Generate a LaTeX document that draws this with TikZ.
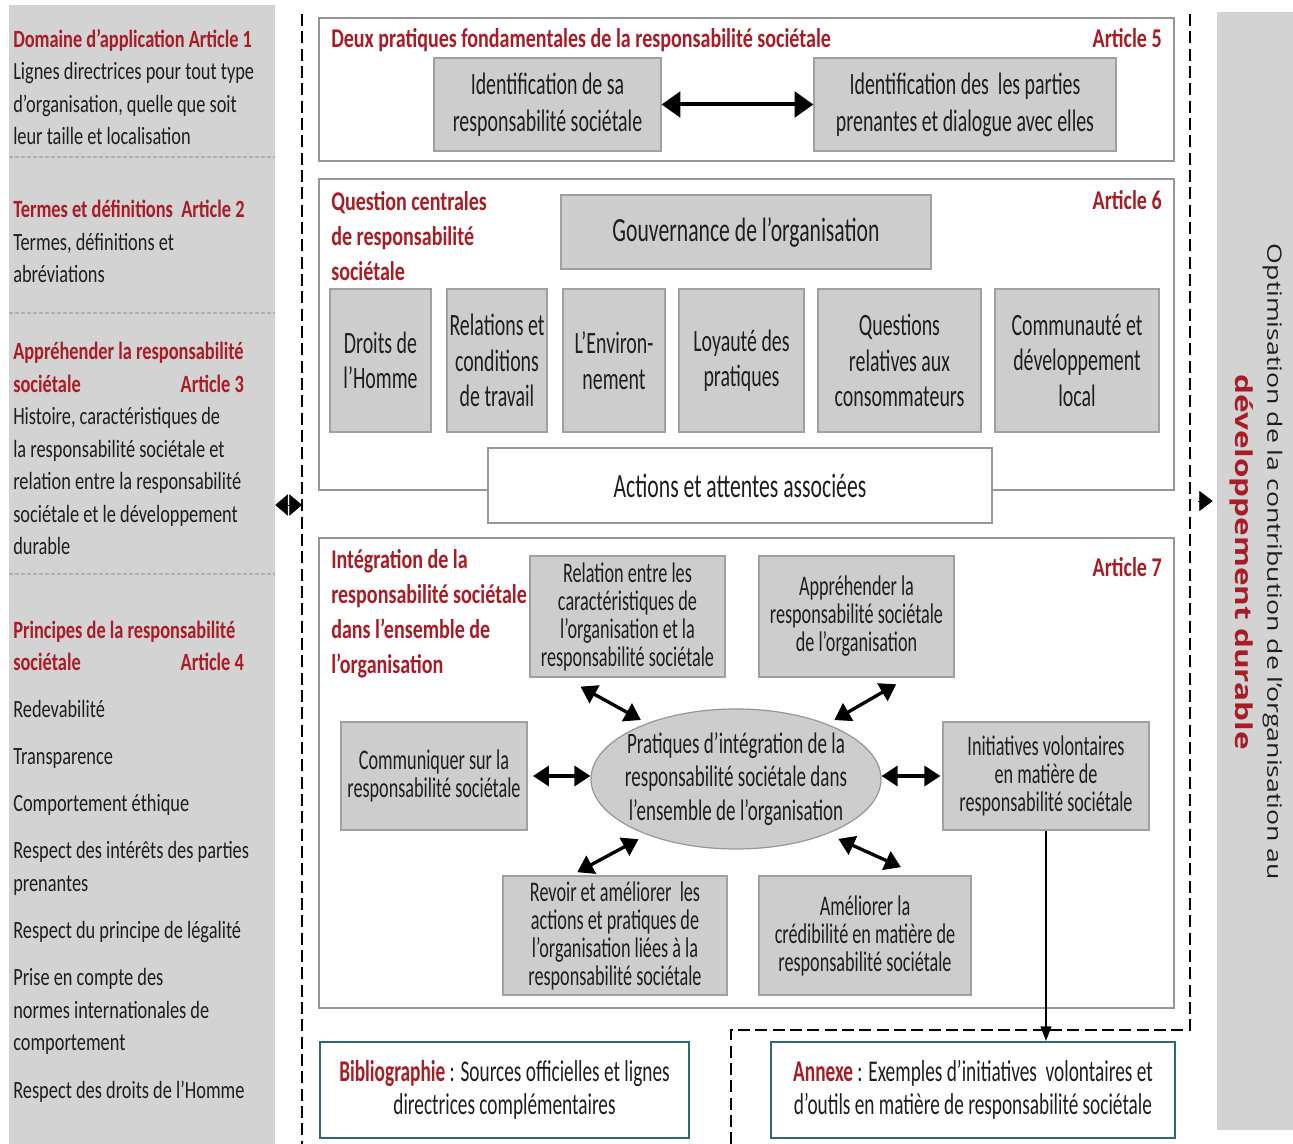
\documentclass[tikz,border=0pt]{standalone}
\usepackage{fontspec}
\setmainfont{Carlito}[FakeStretch=0.74]
\newfontfamily\condfont{Carlito}[FakeStretch=0.64]
\newfontfamily\sidefont{Open Sans}[FakeStretch=1.35]
\usetikzlibrary{fit,arrows.meta,shapes.geometric}

\definecolor{artred}{RGB}{168,28,38}
\definecolor{txt}{RGB}{30,30,30}
\definecolor{boxgray}{RGB}{205,205,205}
\definecolor{boxline}{RGB}{160,160,160}
\definecolor{panelgray}{RGB}{211,211,211}
\definecolor{sepgray}{RGB}{175,175,175}
\definecolor{frameline}{RGB}{150,150,150}
\definecolor{bibline}{RGB}{45,105,115}

\tikzset{
  panel/.style={fill=panelgray, inner sep=0pt},
  sepline/.style={draw=sepgray, line width=1.4pt, dash pattern=on 3pt off 1.5pt},
  framedash/.style={line width=1.1pt, dash pattern=on 9pt off 4pt},
  artframe/.style={draw=frameline, fill=white, line width=1.1pt, inner sep=0pt},
  gbox/.style={draw=boxline, fill=boxgray, line width=0.9pt, inner sep=0pt, align=center, text=txt},
  wbox/.style={gbox, fill=white, draw=frameline},
  refbox/.style={gbox, fill=white, draw=bibline, line width=1.5pt},
  lefttxt/.style={align=left, text=txt, inner sep=0pt, font=\fontsize{18.6}{24.4}\selectfont},
  arttitle/.style={align=left, text=artred, inner sep=0pt, font=\bfseries\fontsize{20.3}{26.5}\selectfont},
  twofont/.style={font=\condfont\fontsize{23.3}{27.8}\selectfont},
  sixfont/.style={font=\condfont\fontsize{23.3}{26.6}\selectfont},
  bigfont/.style={font=\condfont\fontsize{25.4}{30}\selectfont},
  intfont/.style={font=\condfont\fontsize{21.3}{21}\selectfont},
  elfont/.style={font=\condfont\fontsize{22.3}{25}\selectfont},
  reffont/.style={font=\condfont\fontsize{22.6}{24.8}\selectfont},
  bigdbl/.style={line width=3pt, arrows={Triangle[length=14pt,width=19pt]-Triangle[length=14pt,width=19pt]}},
  dbl/.style={line width=2.5pt, arrows={Triangle[length=12pt,width=15pt]-Triangle[length=12pt,width=15pt]}},
}

\begin{document}
\begin{tikzpicture}[x=0.75pt,y=0.75pt,yscale=-1,xscale=1]
\useasboundingbox (0,0) rectangle (1293,1144);

% left column: articles 1 to 4
\node[panel, fit={(9,5) (275,1144)}] (leftcol) {};
\draw[sepline] (9,157) -- (275,157);
\draw[sepline] (9,313) -- (275,313);
\draw[sepline] (9,574) -- (275,574);

\node[lefttxt, anchor=base west] (sec1) at (13,145) {\textcolor{artred}{\bfseries Domaine d’application Article 1}\\ Lignes directrices pour tout type\\ d’organisation, quelle que soit\\ leur taille et localisation};
\node[lefttxt, anchor=base west] (sec2) at (13,283) {\textcolor{artred}{\bfseries Termes et définitions~ Article 2}\\ Termes, définitions et\\ abréviations};
\node[lefttxt, anchor=base west] (sec3) at (13,555) {\textcolor{artred}{\bfseries Appréhender la responsabilité}\\ \hbox to 173pt{\color{artred}\bfseries sociétale\hfill Article 3}\\ Histoire, caractéristiques de\\ la responsabilité sociétale et\\ relation entre la responsabilité\\ sociétale et le développement\\ durable};
\node[lefttxt, anchor=base west] (sec4) at (13,671) {\textcolor{artred}{\bfseries Principes de la responsabilité}\\ \hbox to 173pt{\color{artred}\bfseries sociétale\hfill Article 4}};
\node[lefttxt, anchor=base west] (sec4b) at (13,1098) {Redevabilité\\[11pt] Transparence\\[11pt] Comportement éthique\\[11pt] Respect des intérêts des parties\\ prenantes\\[11pt] Respect du principe de légalité\\[11pt] Prise en compte des\\ normes internationales de\\ comportement\\[11pt] Respect des droits de l’Homme};

% dashed frame of the core articles
\draw[framedash] (302,14) -- (302,1144);
\draw[framedash] (1190,14) -- (1190,1030) -- (731,1030) -- (731,1144);

% article 5
\node[artframe, fit={(319,18) (1174,161)}] (art5) {};
\node[arttitle, anchor=base west] (t5) at (331,48) {Deux pratiques fondamentales de la responsabilité sociétale};
\node[arttitle, anchor=base east] (a5) at (1162,48) {Article 5};
\node[gbox, twofont, minimum width=170.25pt, minimum height=69.75pt] (id1) at (547.5,104.5) {Identification de sa\\ responsabilité sociétale};
\node[gbox, twofont, minimum width=226.5pt, minimum height=69.75pt] (id2) at (965,104.5) {Identification des~ les parties\\ prenantes et dialogue avec elles};
\draw[bigdbl] (id1.east) -- (id2.west);

% article 6
\node[artframe, fit={(319,179) (1174,490)}] (art6) {};
\node[arttitle, anchor=base west] (t6) at (331,281) {Question centrales\\ de responsabilité\\ sociétale};
\node[arttitle, anchor=base east] (a6) at (1162,210) {Article 6};
\node[gbox, bigfont, minimum width=277.5pt, minimum height=55.5pt] (gov) at (746,232) {Gouvernance de l’organisation};
\node[gbox, sixfont, minimum width=75.75pt, minimum height=107.25pt] (q1) at (380.5,360.5) {Droits de\\ l’Homme};
\node[gbox, sixfont, minimum width=75pt, minimum height=107.25pt] (q2) at (497,360.5) {Relations et\\ conditions\\ de travail};
\node[gbox, sixfont, minimum width=76.5pt, minimum height=107.25pt] (q3) at (614,360.5) {L’Environ-\\ nement};
\node[gbox, sixfont, minimum width=93.75pt, minimum height=107.25pt] (q4) at (741.5,360.5) {Loyauté des\\ pratiques};
\node[gbox, sixfont, minimum width=122.25pt, minimum height=107.25pt] (q5) at (899.5,360.5) {Questions\\ relatives aux\\ consommateurs};
\node[gbox, sixfont, minimum width=123pt, minimum height=107.25pt] (q6) at (1077,360.5) {Communauté et\\ développement\\ local};
\node[wbox, bigfont, minimum width=378pt, minimum height=56.25pt] (actions) at (740,485.5) {Actions et attentes associées};

% article 7
\node[artframe, fit={(319,538) (1174,1008)}] (art7) {};
\node[arttitle, anchor=base west] (t7) at (331,674) {Intégration de la\\ responsabilité sociétale\\ dans l’ensemble de\\ l’organisation};
\node[arttitle, anchor=base east] (a7) at (1162,577) {Article 7};
\node[gbox, intfont, minimum width=146.25pt, minimum height=90.75pt] (rel1) at (627.5,616.5) {Relation entre les\\ caractéristiques de\\ l’organisation et la\\ responsabilité sociétale};
\node[gbox, intfont, minimum width=146.25pt, minimum height=90.75pt] (rel2) at (856.5,616.5) {Appréhender la\\ responsabilité sociétale\\ de l’organisation};
\node[gbox, intfont, minimum width=139.5pt, minimum height=81pt] (comm) at (434,776) {Communiquer sur la\\ responsabilité sociétale};
\node[gbox, intfont, minimum width=154.5pt, minimum height=81pt] (init) at (1046,776) {Initiatives volontaires\\ en matière de\\ responsabilité sociétale};
\node[gbox, intfont, minimum width=168pt, minimum height=89.25pt] (b1) at (615,935.5) {Revoir et améliorer~ les\\ actions et pratiques de\\ l’organisation liées à la\\ responsabilité sociétale};
\node[gbox, intfont, minimum width=159pt, minimum height=89.25pt] (b2) at (865,935.5) {Améliorer la\\ crédibilité en matière de\\ responsabilité sociétale};
\node[ellipse, draw=frameline, fill=boxgray, line width=0.9pt, minimum width=217.5pt, minimum height=105pt, inner sep=0pt] (prat) at (736,779) {};
\node[elfont, align=center, text=txt] (pratxt) at (prat.center) {Pratiques d’intégration de la\\ responsabilité sociétale dans\\ l’ensemble de l’organisation};

\draw[dbl, shorten <=14pt, shorten >=5pt] (rel1.224) -- (prat.148);
\draw[dbl, shorten <=10pt, shorten >=6pt] (rel2.310) -- (prat.31);
\draw[dbl, shorten <=7pt, shorten >=5pt] (prat.212) -- (b1.126);
\draw[dbl, shorten <=9pt, shorten >=15pt] (prat.329) -- (b2.48);
\draw[dbl, shorten <=4pt] (comm.east) -- (comm.east -| prat.west);
\draw[dbl, shorten >=1.5pt] (init.west -| prat.east) -- (init.west);

% bibliography and annex
\node[refbox, reffont, minimum width=276.75pt, minimum height=72pt] (bib) at (504.5,1090) {\textcolor{artred}{\bfseries Bibliographie} : Sources officielles et lignes\\ directrices complémentaires};
\node[refbox, reffont, minimum width=303pt, minimum height=72pt] (annexe) at (973,1090) {\textcolor{artred}{\bfseries Annexe} : Exemples d’initiatives~ volontaires et\\ d’outils en matière de responsabilité sociétale};
\draw[line width=1.5pt, -{Triangle[length=11pt,width=8pt]}] (init.south) -- (init.south |- annexe.north);

% right column
\node[panel, fit={(1217,12) (1293,1130)}] (rightcol) {};
\node[rotate=-90, align=center, text=txt, font=\sidefont\fontsize{14.8}{24}\selectfont] (sidetxt) at (1256,562) {Optimisation de la contribution de l’organisation au\\ \textcolor{artred}{\fontsize{17.5}{24}\selectfont\bfseries développement durable}};

\coordinate (dl) at (302,505);
\draw[line width=0.4pt, arrows={Triangle[length=9.5pt,width=16pt]-Triangle[length=9.5pt,width=16pt]}] (leftcol.east |- dl) -- (dl);
\coordinate (dr) at (1198,501);
\draw[line width=0.4pt, -{Triangle[length=10pt,width=15pt]}, shorten >=3pt] (dr) -- (dr -| rightcol.west);
\end{tikzpicture}
\end{document}
